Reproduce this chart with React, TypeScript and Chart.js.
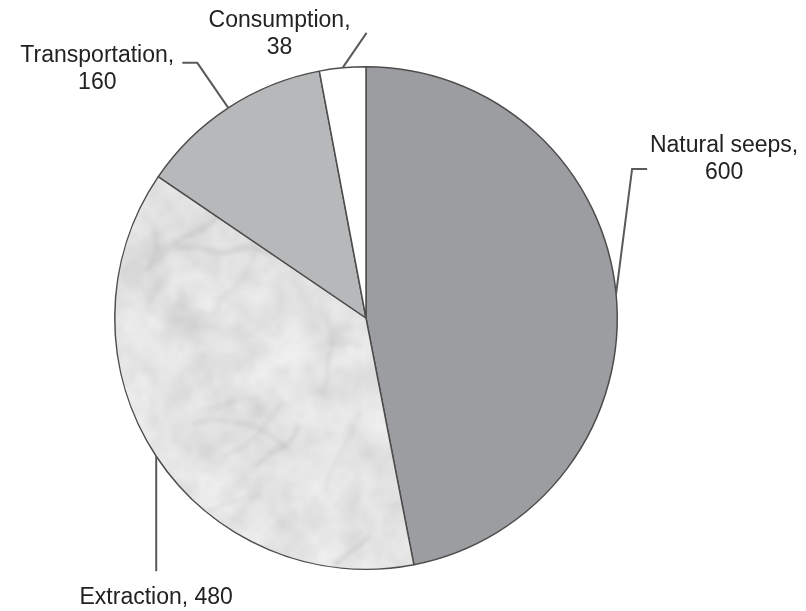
import React, { useEffect, useRef } from "react";
import { Chart, registerables } from "chart.js";

Chart.register(...registerables);

// Oil entering the sea, by source
const categories = ["Natural seeps", "Extraction", "Transportation", "Consumption"];
const values = [600, 480, 160, 38];

const W = 806;
const H = 611;

// Leader line + label placement, relative to the point on the rim at each slice's mid-angle
type Callout = {
  path: [number, number][];
  textX: number;
  textY: number;
  oneLine: boolean;
};
const callouts: Callout[] = [
  { path: [[16, -125], [31, -125]], textX: 108, textY: -142, oneLine: false },
  { path: [[0, 115]], textX: 0, textY: 148, oneLine: true },
  { path: [[-31, -45], [-46, -45]], textX: -131, textY: -46, oneLine: false },
  { path: [[24, -35]], textX: -63, textY: -41, oneLine: false },
];

// Small seeded generator used only for the stone texture
function mulberry32(seed: number) {
  let a = seed >>> 0;
  return () => {
    a = (a + 0x6d2b79f5) >>> 0;
    let t = a;
    t = Math.imul(t ^ (t >>> 15), t | 1);
    t ^= t + Math.imul(t ^ (t >>> 7), t | 61);
    return ((t ^ (t >>> 14)) >>> 0) / 4294967296;
  };
}

function makeMarble(ctx: CanvasRenderingContext2D): CanvasPattern | string {
  const c = document.createElement("canvas");
  c.width = W;
  c.height = H;
  const g = c.getContext("2d");
  if (!g) return "#e6e6e6";
  const rnd = mulberry32(20240611);
  g.fillStyle = "#ececec";
  g.fillRect(0, 0, W, H);

  const octaves = [
    { cells: 12, alpha: 0.5, lo: 175, blur: 12 },
    { cells: 26, alpha: 0.45, lo: 170, blur: 6 },
    { cells: 60, alpha: 0.35, lo: 185, blur: 3 },
    { cells: 120, alpha: 0.2, lo: 200, blur: 1.5 },
  ];
  for (const o of octaves) {
    const cw = o.cells;
    const ch = Math.round((o.cells * H) / W);
    const s = document.createElement("canvas");
    s.width = cw;
    s.height = ch;
    const sg = s.getContext("2d")!;
    const img = sg.createImageData(cw, ch);
    for (let i = 0; i < cw * ch; i++) {
      const r = rnd();
      // skew toward light stone with occasional darker mottles
      const v = o.lo + Math.floor(Math.pow(r, 0.6) * (255 - o.lo));
      img.data[i * 4] = v;
      img.data[i * 4 + 1] = v;
      img.data[i * 4 + 2] = v;
      img.data[i * 4 + 3] = 255;
    }
    sg.putImageData(img, 0, 0);
    g.save();
    g.globalAlpha = o.alpha;
    g.imageSmoothingEnabled = true;
    g.filter = `blur(${o.blur}px)`;
    g.drawImage(s, -20, -20, W + 40, H + 40);
    g.restore();
  }

  // soft diagonal veins
  g.save();
  g.filter = "blur(2px)";
  for (let k = 0; k < 90; k++) {
    let x = rnd() * W;
    let y = rnd() * H;
    let ang = -0.8 + (rnd() - 0.5) * 1.2;
    g.beginPath();
    g.moveTo(x, y);
    const steps = 5 + Math.floor(rnd() * 10);
    for (let i = 0; i < steps; i++) {
      ang += (rnd() - 0.5) * 0.7;
      x += Math.cos(ang) * 9;
      y += Math.sin(ang) * 9;
      g.lineTo(x, y);
    }
    g.strokeStyle = `rgba(120,120,120,${0.08 + rnd() * 0.14})`;
    g.lineWidth = 1.5 + rnd() * 2.5;
    g.stroke();
  }
  g.restore();

  return ctx.createPattern(c, "no-repeat") || "#e6e6e6";
}

const calloutPlugin = {
  id: "callouts",
  afterDatasetsDraw(chart: any) {
    const ctx: CanvasRenderingContext2D = chart.ctx;
    const meta = chart.getDatasetMeta(0);
    meta.data.forEach((arc: any, i: number) => {
      const { x, y, startAngle, endAngle, outerRadius } = arc.getProps(
        ["x", "y", "startAngle", "endAngle", "outerRadius"],
        true
      );
      const mid = (startAngle + endAngle) / 2;
      const ax = x + Math.cos(mid) * outerRadius;
      const ay = y + Math.sin(mid) * outerRadius;
      const c = callouts[i];

      ctx.save();
      ctx.strokeStyle = "#5a5a5a";
      ctx.lineWidth = 2;
      ctx.lineJoin = "miter";
      ctx.beginPath();
      ctx.moveTo(ax, ay);
      for (const [dx, dy] of c.path) ctx.lineTo(ax + dx, ay + dy);
      ctx.stroke();

      ctx.fillStyle = "#222222";
      ctx.font = '23px "Liberation Sans", Arial, sans-serif';
      ctx.textAlign = "center";
      ctx.textBaseline = "alphabetic";
      const label = categories[i];
      const val = String(chart.data.datasets[0].data[i]);
      if (c.oneLine) {
        ctx.fillText(`${label}, ${val}`, ax + c.textX, ay + c.textY);
      } else {
        ctx.fillText(`${label},`, ax + c.textX, ay + c.textY);
        ctx.fillText(val, ax + c.textX, ay + c.textY + 27);
      }
      ctx.restore();
    });
  },
};

export default function App() {
  const ref = useRef<HTMLCanvasElement | null>(null);

  useEffect(() => {
    const canvas = ref.current;
    if (!canvas) return;
    const ctx = canvas.getContext("2d")!;
    const marble = makeMarble(ctx);

    const chart = new Chart(canvas, {
      type: "pie",
      data: {
        labels: categories,
        datasets: [
          {
            data: values,
            backgroundColor: ["#9c9da0", marble as any, "#b7b8ba", "#ffffff"],
            borderColor: "#4d4d4d",
            borderWidth: 1.5,
            hoverOffset: 0,
          },
        ],
      },
      options: {
        responsive: false,
        maintainAspectRatio: false,
        animation: false,
        events: [],
        layout: { padding: { left: 114, top: 66, right: 188, bottom: 41 } },
        plugins: {
          legend: { display: false },
          tooltip: { enabled: false },
        },
      },
      plugins: [calloutPlugin],
    });

    return () => chart.destroy();
  }, []);

  return (
    <div
      style={{
        position: "fixed",
        left: 0,
        top: 0,
        width: W,
        height: H,
        background: "#ffffff",
      }}
    >
      <canvas ref={ref} width={W} height={H} style={{ display: "block" }} />
    </div>
  );
}
